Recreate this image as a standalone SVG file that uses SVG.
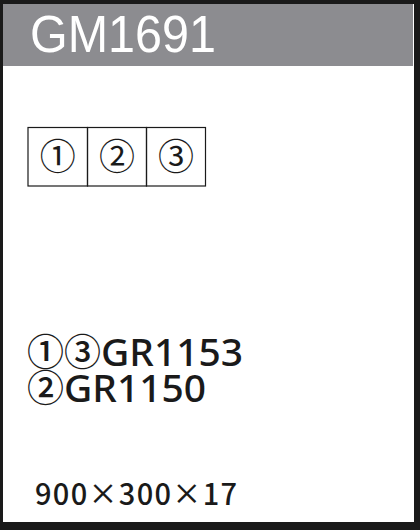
<svg xmlns="http://www.w3.org/2000/svg" width="420" height="530" viewBox="0 0 420 530">
<style>
.cell{fill:none;stroke:#1a1a1a;stroke-width:1.2}
.cj{font-family:"Noto Sans CJK JP","Noto Sans",sans-serif;fill:#1a1a1a}
.lbl{font-family:"Noto Sans","Noto Sans CJK JP",sans-serif;fill:#1a1a1a;font-weight:500}
</style>
<rect x="0" y="0" width="420" height="530" fill="#1a1a1a"/>
<rect x="3" y="4" width="411" height="518" fill="#ffffff"/>
<g id="header">
<rect x="3" y="4" width="410" height="62" fill="#8c8c90"/>
<text x="30" y="52" font-family="'Liberation Sans',Arial,sans-serif" font-size="52" fill="#ffffff" textLength="186" lengthAdjust="spacingAndGlyphs">GM1691</text>
</g>
<g id="cells">
<g id="cell1"><rect class="cell" x="28" y="127.5" width="59.5" height="58.5"/><text class="cj" x="57.7" y="170" font-size="36" text-anchor="middle">①</text></g>
<g id="cell2"><rect class="cell" x="87.5" y="127.5" width="59" height="58.5"/><text class="cj" x="117" y="170" font-size="36" text-anchor="middle">②</text></g>
<g id="cell3"><rect class="cell" x="146.5" y="127.5" width="59" height="58.5"/><text class="cj" x="176" y="170" font-size="36" text-anchor="middle">③</text></g>
</g>
<g id="labels">
<text class="cj" x="27" y="366" font-size="37" font-weight="500">①③<tspan class="lbl" font-size="38" textLength="142" lengthAdjust="spacingAndGlyphs">GR1153</tspan></text>
<text class="cj" x="27" y="402" font-size="37" font-weight="500">②<tspan class="lbl" font-size="38" textLength="142" lengthAdjust="spacingAndGlyphs">GR1150</tspan></text>
<text class="cj" x="35" y="505" font-size="29" font-weight="500" textLength="202" lengthAdjust="spacing">900×300×17</text>
</g>
</svg>
